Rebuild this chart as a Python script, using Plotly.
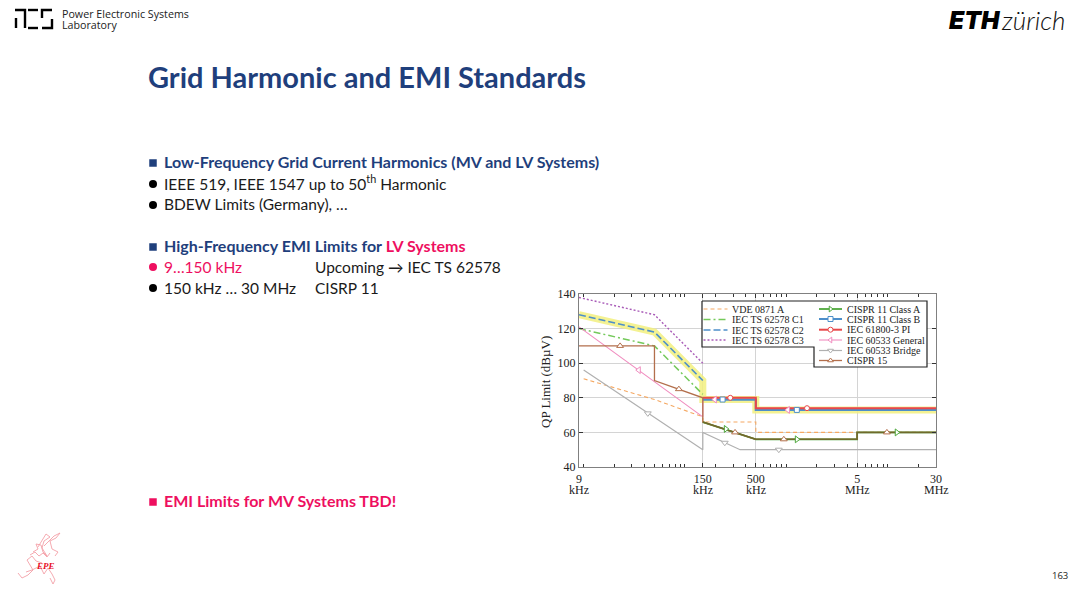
import numpy as np
import plotly.graph_objects as go

W, H = 1080, 591

# frequencies in kHz, limits in dBuV
vde_f = [10, 50, 150, 150, 500, 500, 30000]
vde_v = [91, 79, 69, 66, 66, 60, 60]
c1_f = [9, 50, 150]
c1_v = [120, 110, 82]
c2_f = [9, 50, 150]
c2_v = [128, 118, 90]
c3_f = [9, 50, 150]
c3_v = [138, 128, 100]
highlight_f = [9, 50, 150, 150, 500, 500, 30000]
highlight_v = [128, 118, 90, 79, 79, 73, 73]
class_a_f = [150, 500, 5000, 5000, 30000]
class_a_v = [66, 56, 56, 60, 60]
class_b_f = [150, 500, 500, 30000]
class_b_v = [79, 79, 73, 73]
pi_f = [150, 500, 500, 30000]
pi_v = [80, 80, 74, 74]
general_f = [9, 150, 150, 500, 500, 30000]
general_v = [121, 69, 80, 80, 74, 74]
bridge_f = [10, 150, 150, 350, 30000]
bridge_v = [96, 50, 60, 50, 50]
cispr15_f = [9, 50, 50, 150, 150, 500, 5000, 5000, 30000]
cispr15_v = [110, 110, 90, 80, 66, 56, 56, 60, 60]

# marker positions
class_a_mf = [253, 1270, 12300]
class_a_mv = [62, 56, 60]
class_b_mf = [235, 1270]
class_b_mv = [79, 73]
pi_mf = [280, 1600]
pi_mv = [80, 74]
general_mf = [35, 197, 1037]
general_mv = [96, 79, 73]
bridge_mf = [43, 247, 843]
bridge_mv = [71, 54, 50]
cispr15_mf = [22.9, 87, 312, 945, 9830]
cispr15_mv = [110, 85, 60, 56, 60]

x_ticks = [9, 150, 500, 5000, 30000]
x_labels = ['9', '150', '500', '5', '30']
x_units = ['kHz', 'kHz', 'kHz', 'MHz', 'MHz']
x_minor = [10, 20, 30, 40, 50, 60, 70, 80, 90, 100, 200, 300, 400, 600, 700, 800, 900,
           1000, 2000, 3000, 4000, 6000, 7000, 8000, 9000, 10000, 20000]
y_ticks = [40, 60, 80, 100, 120, 140]

left_names = ['VDE 0871 A', 'IEC TS 62578 C1', 'IEC TS 62578 C2', 'IEC TS 62578 C3']
right_names = ['CISPR 11 Class A', 'CISPR 11 Class B', 'IEC 61800-3 PI',
               'IEC 60533 General', 'IEC 60533 Bridge', 'CISPR 15']

ORANGE = '#f5a862'
GREEN1 = '#74c95a'
BLUE = '#4d8fca'
PURPLE = '#a95cb8'
GREEN2 = '#4ea83c'
RED = '#e8474a'
PINK = '#f08cbf'
GREY = '#b0b0b0'
BROWN = '#b36f4c'
NAVY = '#1f3f7c'
MAGENTA = '#ee0f5f'
SERIF = 'Liberation Serif'
SANS = 'Lato'

fig = go.Figure()


def add_line(fx, fy, color, width, dash='solid', opacity=1):
    fig.add_trace(go.Scatter(x=fx, y=fy, mode='lines', opacity=opacity,
                             line=dict(color=color, width=width, dash=dash)))


def add_marks(fx, fy, color, symbol, size=6):
    fig.add_trace(go.Scatter(x=fx, y=fy, mode='markers',
                             marker=dict(symbol=symbol, size=size, color='white',
                                         line=dict(color=color, width=1))))


add_line(highlight_f, highlight_v, '#f3f080', 7, opacity=0.85)
add_line(vde_f, vde_v, ORANGE, 1.1, '4px,3px')
add_line(c1_f, c1_v, GREEN1, 1.5, '7px,3px,2px,3px')
add_line(c2_f, c2_v, BLUE, 1.6, '7px,3px')
add_line(c3_f, c3_v, PURPLE, 1.4, '2px,2px')
add_line(general_f, general_v, PINK, 1.1)
add_line(class_a_f, class_a_v, GREEN2, 1.8)
add_line(class_b_f, class_b_v, BLUE, 2.2)
add_line(pi_f, pi_v, RED, 2)
add_line(bridge_f, bridge_v, GREY, 1.2)
add_line(cispr15_f, cispr15_v, BROWN, 1.3)
add_line(class_a_f, class_a_v, '#6f6a2c', 1.5)
add_marks(class_a_mf, class_a_mv, GREEN2, 'triangle-right')
add_marks(class_b_mf, class_b_mv, BLUE, 'square', 5)
add_marks(pi_mf, pi_mv, RED, 'circle', 5)
add_marks(general_mf, general_mv, PINK, 'triangle-left')
add_marks(bridge_mf, bridge_mv, GREY, 'triangle-down')
add_marks(cispr15_mf, cispr15_mv, BROWN, 'triangle-up')

# page overlay in pixels: legend box, legend keys, logos
fig.add_trace(go.Scatter(
    x=[702, 927, 927, 814, 814, 702, 702], y=[301, 301, 367, 367, 347, 347, 301],
    mode='lines', fill='toself', fillcolor='white', line=dict(color='#222222', width=1.2),
    xaxis='x2', yaxis='y2'))

left_styles = [(ORANGE, 1.1, '4px,3px'), (GREEN1, 1.5, '7px,3px,2px,3px'),
               (BLUE, 1.6, '7px,3px'), (PURPLE, 1.4, '2px,2px')]
left_rows = [309, 319.5, 330, 340]
for name, (col, wd, ds), yy in zip(left_names, left_styles, left_rows):
    fig.add_trace(go.Scatter(x=[703.5, 727.5], y=[yy, yy], mode='lines',
                             line=dict(color=col, width=wd, dash=ds), xaxis='x2', yaxis='y2'))
    fig.add_annotation(x=730, y=yy, text=name, xref='x2', yref='y2', xanchor='left', yanchor='middle',
                       showarrow=False, font=dict(family=SERIF, size=10, color='#222222'))

right_styles = [(GREEN2, 1.8, 'triangle-right'), (BLUE, 2, 'square'), (RED, 2, 'circle'),
                (PINK, 1.1, 'triangle-left'), (GREY, 1.2, 'triangle-down'), (BROWN, 1.3, 'triangle-up')]
right_rows = [309, 319, 329.7, 340, 350.5, 360.5]
for name, (col, wd, sym), yy in zip(right_names, right_styles, right_rows):
    fig.add_trace(go.Scatter(x=[819, 842], y=[yy, yy], mode='lines', line=dict(color=col, width=wd),
                             xaxis='x2', yaxis='y2'))
    fig.add_trace(go.Scatter(x=[830.5], y=[yy], mode='markers', xaxis='x2', yaxis='y2',
                             marker=dict(symbol=sym, size=5, color='white', line=dict(color=col, width=1))))
    fig.add_annotation(x=845, y=yy, text=name, xref='x2', yref='y2', xanchor='left', yanchor='middle',
                       showarrow=False, font=dict(family=SERIF, size=10, color='#222222'))

# rough EPE map outline
map_lines = [
    ([18, 22, 28, 33, 30, 27, 32, 36, 42], [573, 578, 575, 570, 565, 560, 556, 561, 563]),
    ([33, 38, 36, 41, 43, 47, 42, 44, 50, 46, 38], [552, 549, 544, 545, 552, 556, 548, 541, 537, 534, 547]),
    ([44, 49, 54, 60, 56, 50, 52, 58, 55], [546, 541, 536, 533, 538, 541, 549, 552, 556]),
    ([26, 32, 40, 44, 48, 52, 55, 53, 50], [572, 570, 566, 574, 568, 574, 580, 584, 578]),
    ([30, 35, 39, 43, 47, 50], [555, 552, 556, 553, 557, 553]),
]
for mx, my in map_lines:
    fig.add_trace(go.Scatter(x=mx, y=my, mode='lines', line=dict(color='#f4a0a8', width=0.9),
                             xaxis='x2', yaxis='y2'))

# slide bullets
bullet_square_x = [153, 153, 153]
bullet_square_y = [163, 247, 502]
bullet_square_c = [NAVY, NAVY, MAGENTA]
bullet_round_x = [153, 153, 153, 153]
bullet_round_y = [184, 205, 267, 288]
bullet_round_c = ['black', 'black', MAGENTA, 'black']
fig.add_trace(go.Scatter(x=bullet_square_x, y=bullet_square_y, mode='markers', xaxis='x2', yaxis='y2',
                         marker=dict(symbol='square', size=7.5, color=bullet_square_c)))
fig.add_trace(go.Scatter(x=bullet_round_x, y=bullet_round_y, mode='markers', xaxis='x2', yaxis='y2',
                         marker=dict(symbol='circle', size=8, color=bullet_round_c)))

fig.update_traces(showlegend=False, hoverinfo='skip')


def text(x, y, s, size=15.5, color='#1a1a1a', bold=False, family=SANS, anchor='left', weight=None, style=None):
    f = dict(family=family, size=size, color=color)
    if bold:
        f['weight'] = 'bold'
    if weight:
        f['weight'] = weight
    if style:
        f['style'] = style
    fig.add_annotation(x=x, y=y, text=s, xref='x2', yref='y2', xanchor=anchor, yanchor='middle',
                       showarrow=False, font=f)


text(146, 76, 'Grid Harmonic and EMI Standards', size=29, color=NAVY, bold=True)
text(60, 14, 'Power Electronic Systems', size=10.7, family='Open Sans', color='#222222')
text(60, 25, 'Laboratory', size=10.7, family='Open Sans', color='#222222')
text(947, 20, 'ETH', size=24.5, color='black', family='Inter', weight=900, style='italic')
text(999, 20, 'zürich', size=26, color='#111111', family='Lato', style='italic', weight=300)
text(34, 566, 'EPE', size=9, color='#e8101f', bold=True, family=SERIF, style='italic')
text(1060, 575, '163', size=9.5, color='#222222', family='Open Sans', anchor='center')

text(162, 161, 'Low-Frequency Grid Current Harmonics (MV and LV Systems)', size=16, color=NAVY, bold=True)
text(162, 182, 'IEEE 519, IEEE 1547 up to 50<sup>th</sup> Harmonic')
text(162, 204, 'BDEW Limits (Germany), …')
text(162, 245, f'High-Frequency EMI Limits for <span style="color:{MAGENTA}">LV Systems</span>', size=16,
     color=NAVY, bold=True)
text(162, 267, '9…150 kHz', color=MAGENTA)
text(313, 267, 'Upcoming → IEC TS 62578')
text(162, 288, '150 kHz … 30 MHz')
text(313, 288, 'CISRP 11')
text(162, 500, 'EMI Limits for MV Systems TBD!', size=16, color=MAGENTA, bold=True)

# y axis title
fig.add_annotation(x=545, y=382, text='QP Limit (dBµV)', xref='x2', yref='y2', textangle=-90, showarrow=False,
                   xanchor='center', yanchor='middle', font=dict(family=SERIF, size=13, color='#222222'))

# x axis unit row under the tick numbers
for tv, unit in zip(x_ticks, x_units):
    fig.add_annotation(x=np.log10(tv), y=490, text=unit, xref='x', yref='y2', xanchor='center', yanchor='middle',
                       showarrow=False, font=dict(family=SERIF, size=12, color='#222222'))

# PES logo
pes_paths = ['M15 10 H25 V28', 'M16 18 V28', 'M28 10 H38', 'M28 28 H38', 'M52 10 H42 V18', 'M52 19 V28 H42']
for p in pes_paths:
    fig.add_shape(type='path', path=p, xref='x2', yref='y2', line=dict(color='black', width=2.4))

fig.update_layout(
    width=W, height=H,
    margin=dict(l=0, r=0, t=0, b=0),
    paper_bgcolor='white', plot_bgcolor='rgba(0,0,0,0)',
    xaxis=dict(type='log', range=[np.log10(9), np.log10(30000)], domain=[579 / W, 936 / W],
               tickmode='array', tickvals=x_ticks, ticktext=x_labels, ticks='inside', ticklen=4,
               tickcolor='#333333', showline=True, linecolor='#808080', linewidth=1.4, mirror='ticks',
               showgrid=True, gridcolor='#d4d4d4', gridwidth=1.2, zeroline=False, automargin=False,
               tickfont=dict(family=SERIF, size=12, color='#222222'),
               minor=dict(tickmode='array', tickvals=x_minor, ticks='inside', ticklen=2.5, tickcolor='#333333',
                          showgrid=False)),
    yaxis=dict(range=[40, 140], domain=[1 - 467 / H, 1 - 294 / H], tickmode='array', tickvals=y_ticks,
               ticks='inside', ticklen=4, tickcolor='#333333', showline=True, linecolor='#808080', linewidth=1.4,
               mirror='ticks', showgrid=True, gridcolor='#d4d4d4', gridwidth=1.2, zeroline=False, automargin=False,
               tickfont=dict(family=SERIF, size=12, color='#222222')),
    xaxis2=dict(range=[0, W], domain=[0, 1], visible=False, anchor='y2', automargin=False),
    yaxis2=dict(range=[H, 0], domain=[0, 1], visible=False, anchor='x2', automargin=False),
)

fig.write_html("out.html", config={'displayModeBar': False}, post_script="document.body.style.margin='0';")
